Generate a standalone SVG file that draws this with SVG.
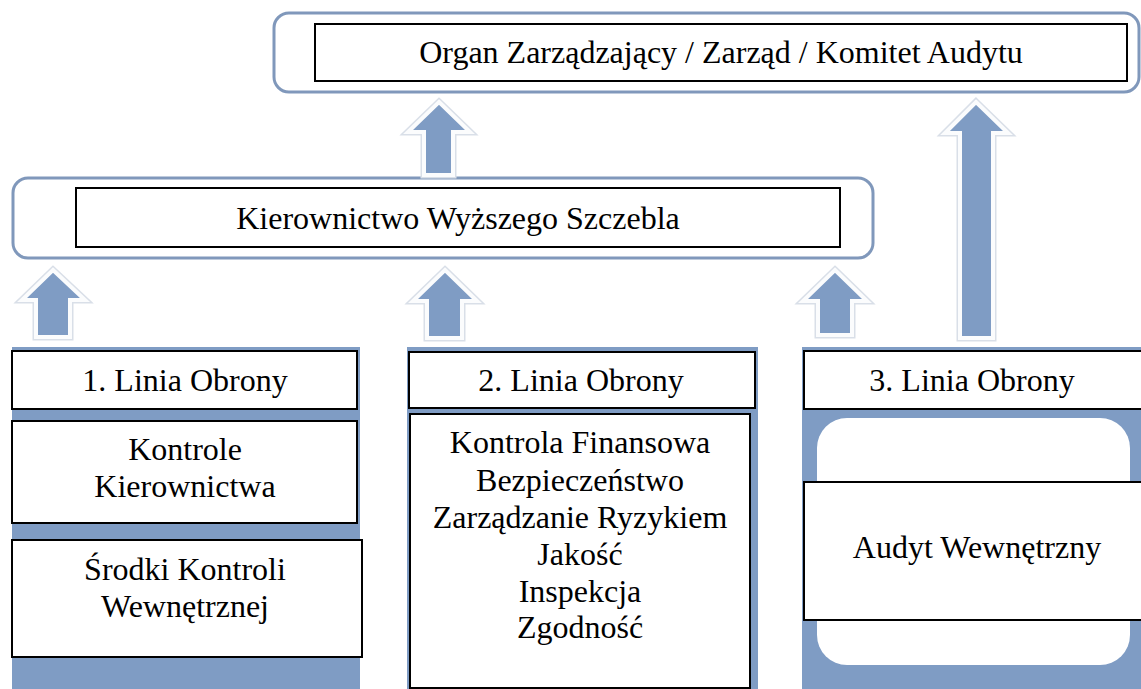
<svg xmlns="http://www.w3.org/2000/svg" width="1141" height="689" viewBox="0 0 1141 689">
<style>
.outer{fill:#fff;stroke:#8098bb;stroke-width:3}
.box{fill:#fff;stroke:#000;stroke-width:2}
.band{fill:#7f9cc4}
.halo{fill:none;stroke:#d9dfe8;stroke-width:7;stroke-linejoin:miter}
.arrow{fill:#7f9cc4;stroke:#fbfcfd;stroke-width:4;stroke-linejoin:miter}
.t{font-family:'Liberation Serif','Times New Roman',serif;font-size:32px;fill:#000;text-anchor:middle}
</style>
<defs>
<polygon id="a0" points="439,102 470,132 453,132 453,175 424,175 424,132 408,132"/>
<polygon id="a1" points="53,270 85,300 70,300 70,337 36,337 36,300 22,300"/>
<polygon id="a2" points="445,270 477,301 462,301 462,338 427,338 427,301 413,301"/>
<polygon id="a3" points="835,270 867,301 852,301 852,335 818,335 818,301 803,301"/>
<polygon id="a4" points="976,102 1008,133 993,133 993,338 960,338 960,133 945,133"/>
</defs>
<rect width="1141" height="689" fill="#fff"/>
<g id="top">
<rect class="outer" x="274" y="13" width="865" height="79" rx="15"/>
<rect class="box" x="315" y="24" width="812" height="57"/>
<text class="t" x="721" y="63">Organ Zarządzający / Zarząd / Komitet Audytu</text>
</g>
<g id="senior">
<rect class="outer" x="13" y="178" width="860" height="80" rx="15"/>
<rect class="box" x="76" y="188" width="764" height="59"/>
<text class="t" x="458" y="229">Kierownictwo Wyższego Szczebla</text>
</g>
<g id="connectors">
<use href="#a0" class="halo"/><use href="#a0" class="arrow"/>
<use href="#a1" class="halo"/><use href="#a1" class="arrow"/>
<use href="#a2" class="halo"/><use href="#a2" class="arrow"/>
<use href="#a3" class="halo"/><use href="#a3" class="arrow"/>
<use href="#a4" class="halo"/><use href="#a4" class="arrow"/>
</g>
<g id="line1">
<rect class="band" x="12" y="347" width="348" height="342"/>
<rect class="box" x="12" y="351" width="345" height="58"/>
<text class="t" x="185" y="391">1. Linia Obrony</text>
<rect class="box" x="12" y="421" width="345" height="102"/>
<text class="t" x="185" y="460">Kontrole</text>
<text class="t" x="185" y="497">Kierownictwa</text>
<rect class="box" x="12" y="540" width="350" height="117"/>
<text class="t" x="185" y="580">Środki Kontroli</text>
<text class="t" x="185" y="617">Wewnętrznej</text>
</g>
<g id="line2">
<rect class="band" x="407" y="347" width="351" height="342"/>
<rect class="box" x="409" y="352" width="346" height="56"/>
<text class="t" x="581" y="391">2. Linia Obrony</text>
<rect class="box" x="410" y="414" width="340" height="274"/>
<text class="t" x="580" y="453">Kontrola Finansowa</text>
<text class="t" x="580" y="491">Bezpieczeństwo</text>
<text class="t" x="580" y="528">Zarządzanie Ryzykiem</text>
<text class="t" x="580" y="565">Jakość</text>
<text class="t" x="580" y="602">Inspekcja</text>
<text class="t" x="580" y="638">Zgodność</text>
</g>
<g id="line3">
<rect class="band" x="802" y="347" width="339" height="342"/>
<rect class="box" x="804" y="351" width="340" height="58"/>
<text class="t" x="972" y="391">3. Linia Obrony</text>
<rect x="817" y="418" width="313" height="247" rx="30" fill="#fff"/>
<rect class="box" x="804" y="482" width="340" height="138"/>
<text class="t" x="977" y="558">Audyt Wewnętrzny</text>
</g>
</svg>
